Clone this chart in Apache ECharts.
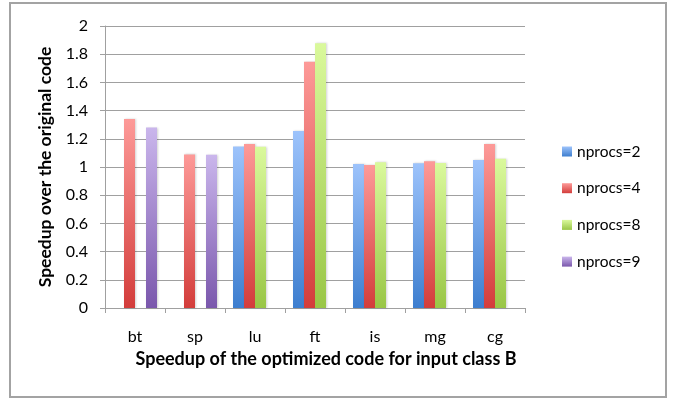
<!DOCTYPE html>
<html>
<head>
<meta charset="utf-8">
<script src="https://cdn.jsdelivr.net/npm/echarts@6/dist/echarts.min.js"></script>
<style>
html,body{margin:0;padding:0;background:#fff;}
#c{width:674px;height:401px;}
</style>
</head>
<body>
<div id="c"></div>
<script>
const categories = ['bt','sp','lu','ft','is','mg','cg'];
const seriesNames = ['nprocs=2','nprocs=4','nprocs=8','nprocs=9'];
const np2 = [null, null, 1.145, 1.256, 1.021, 1.026, 1.050];
const np4 = [1.341, 1.089, 1.164, 1.747, 1.014, 1.040, 1.163];
const np8 = [null, null, 1.143, 1.877, 1.033, 1.028, 1.059];
const np9 = [1.280, 1.086, null, null, null, null, null];
const yTicks = [0, 0.2, 0.4, 0.6, 0.8, 1, 1.2, 1.4, 1.6, 1.8, 2];

const FONT = 'Lato, "Open Sans", sans-serif';
const gradients = [
  ['#9dc3fb', '#3d7ecf'],
  ['#fd9a98', '#d33d3b'],
  ['#daf99c', '#99c646'],
  ['#cab6ec', '#7a57ac']
];
function grad(c){
  return new echarts.graphic.LinearGradient(0,0,0,1,[{offset:0,color:c[0]},{offset:1,color:c[1]}]);
}
const allData = [np2, np4, np8, np9];

const chart = echarts.init(document.getElementById('c'), null, {renderer:'canvas'});
chart.setOption({
  animation: false,
  backgroundColor: '#fff',
  graphic: [{
    type: 'rect', shape: {x: 10, y: 3, width: 656, height: 394},
    style: {fill: 'none', stroke: '#a3a3a3', lineWidth: 2}, z: -1
  }],
  grid: {left: 105, right: 149, top: 26, bottom: 93},
  legend: {
    orient: 'vertical', left: 557, top: 138,
    itemWidth: 10, itemHeight: 10, itemGap: 19.7,
    icon: 'rect',
    textStyle: {fontFamily: FONT, fontSize: 15.5, color: '#000', lineHeight: 17},
    data: seriesNames
  },
  xAxis: {
    type: 'category', data: categories,
    name: 'Speedup of the optimized code for input class B',
    nameLocation: 'middle', nameGap: 42,
    nameTextStyle: {fontFamily: FONT, fontSize: 18, fontWeight: 'bold', color: '#000', padding: [0, 0, 0, 22]},
    axisLine: {lineStyle: {color: '#a0a0a0', width: 1}},
    axisTick: {show: true, length: 5, lineStyle: {color: '#a0a0a0'}},
    axisLabel: {fontFamily: FONT, fontSize: 16, color: '#000', margin: 21}
  },
  yAxis: {
    type: 'value', min: 0, max: 2, interval: 0.2,
    name: 'Speedup over the original code',
    nameLocation: 'middle', nameGap: 38,
    nameTextStyle: {fontFamily: FONT, fontSize: 17.5, fontWeight: 'bold', color: '#000'},
    axisLine: {show: true, lineStyle: {color: '#a0a0a0', width: 1}},
    axisTick: {show: true, length: 5, lineStyle: {color: '#a0a0a0'}},
    axisLabel: {fontFamily: FONT, fontSize: 16, color: '#000', margin: 17,
      formatter: function(v){ const t = yTicks.find(x => Math.abs(x - v) < 1e-9); return String(t !== undefined ? t : v); }},
    splitLine: {lineStyle: {color: '#a0a0a0', width: 1}}
  },
  series: seriesNames.map((n, i) => ({
    name: n, type: 'bar', data: allData[i],
    barWidth: 11, barGap: '0%',
    itemStyle: {color: grad(gradients[i]), shadowColor: 'rgba(0,0,0,0.18)', shadowBlur: 2, shadowOffsetX: 1}
  }))
});
</script>
</body>
</html>
